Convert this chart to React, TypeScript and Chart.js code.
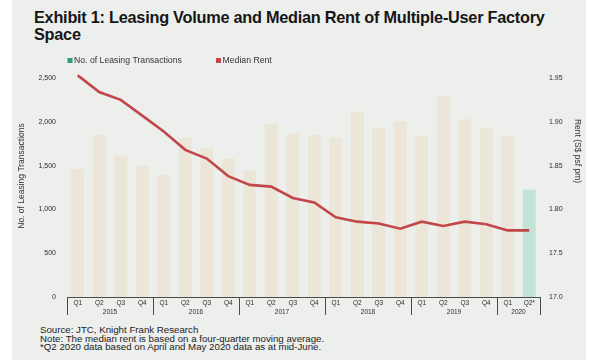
import React, { useEffect, useRef } from 'react';
import { Chart, registerables } from 'chart.js';

Chart.register(...registerables);

const QUARTER_LABELS = [
  'Q1', 'Q2', 'Q3', 'Q4',
  'Q1', 'Q2', 'Q3', 'Q4',
  'Q1', 'Q2', 'Q3', 'Q4',
  'Q1', 'Q2', 'Q3', 'Q4',
  'Q1', 'Q2', 'Q3', 'Q4',
  'Q1', 'Q2*',
];
const YEARS = ['2015', '2016', '2017', '2018', '2019', '2020'];
const YEAR_SPANS = [4, 4, 4, 4, 4, 2];

const TRANSACTIONS = [
  1460, 1850, 1615, 1495,
  1395, 1820, 1700, 1585,
  1445, 1975, 1860, 1850,
  1815, 2115, 1935, 2010,
  1840, 2295, 2030, 1935,
  1840, 1225,
];
const MEDIAN_RENT = [
  1.953, 1.934, 1.925, 1.907,
  1.889, 1.868, 1.858, 1.838,
  1.828, 1.826, 1.813, 1.808,
  1.791, 1.786, 1.784, 1.778,
  1.786, 1.781, 1.786, 1.783,
  1.776, 1.776,
];
const RENT_TICK_LABELS = ['17.0', '17.5', '1.80', '1.85', '1.90', '1.95'];

const TITLE_LINES = ['Exhibit 1: Leasing Volume and Median Rent of Multiple-User Factory', 'Space'];
const LEGEND_LABELS = ['No. of Leasing Transactions', 'Median Rent'];
const LEFT_AXIS_TITLE = 'No. of Leasing Transactions';
const RIGHT_AXIS_TITLE = 'Rent (S$ psf pm)';
const FOOTNOTES = [
  'Source: JTC, Knight Frank Research',
  'Note: The median rent is based on a four-quarter moving average.',
  '*Q2 2020 data based on April and May 2020 data as at mid-June.',
];

const FONT = '"Liberation Sans", Arial, Helvetica, sans-serif';
const BG = '#edefed';
const BAR_COLOR = '#ebe6d8';
const BAR_HIGHLIGHT = '#c4e3d7';
const LEGEND_GREEN = '#2c9c84';
const LINE_RED = '#c1474a';
const TEXT = '#2b2b2b';

export default function App() {
  const canvasRef = useRef<HTMLCanvasElement | null>(null);

  useEffect(() => {
    const canvas = canvasRef.current;
    if (!canvas) return;

    const barColors = TRANSACTIONS.map((_, i) => (i === TRANSACTIONS.length - 1 ? BAR_HIGHLIGHT : BAR_COLOR));
    const legendColors = [LEGEND_GREEN, LINE_RED];
    const legendX = [55.5, 204];

    const decorations = {
      id: 'decorations',
      afterDraw(chart: any) {
        const { ctx, chartArea, scales } = chart;
        const x = scales.x;
        const n = QUARTER_LABELS.length;
        const step = (chartArea.right - chartArea.left) / n;
        const axisY = chartArea.bottom;
        ctx.save();

        // legend
        ctx.font = `8.7px ${FONT}`;
        ctx.textAlign = 'left';
        ctx.textBaseline = 'middle';
        LEGEND_LABELS.forEach((label, i) => {
          ctx.fillStyle = legendColors[i];
          ctx.fillRect(legendX[i], 14, 5, 5);
          ctx.fillStyle = '#333';
          ctx.fillText(label, legendX[i] + 6.5, 16.5);
        });

        // year separators
        ctx.strokeStyle = '#4a4a4a';
        ctx.lineWidth = 1;
        let idx = 0;
        const boundaries: number[] = [0];
        YEAR_SPANS.forEach((s) => {
          idx += s;
          boundaries.push(idx);
        });
        boundaries.forEach((b) => {
          const px = Math.round(x.getPixelForValue(Math.min(b, n - 1)) + (b >= n ? step / 2 : -step / 2)) + 0.5;
          ctx.beginPath();
          ctx.moveTo(px, axisY);
          ctx.lineTo(px, axisY + 18);
          ctx.stroke();
        });
        // year labels
        ctx.fillStyle = TEXT;
        ctx.font = `6.5px ${FONT}`;
        ctx.textAlign = 'center';
        ctx.textBaseline = 'middle';
        let start = 0;
        YEARS.forEach((yr, i) => {
          const end = start + YEAR_SPANS[i] - 1;
          const cx = (x.getPixelForValue(start) + x.getPixelForValue(end)) / 2;
          ctx.fillText(yr, cx, axisY + 15);
          start += YEAR_SPANS[i];
        });
        // axis titles
        ctx.font = `8.5px ${FONT}`;
        ctx.fillStyle = '#333';
        ctx.save();
        ctx.translate(10, 132);
        ctx.rotate(-Math.PI / 2);
        ctx.fillText(LEFT_AXIS_TITLE, 0, 0);
        ctx.restore();
        ctx.save();
        ctx.translate(565, 107);
        ctx.rotate(Math.PI / 2);
        ctx.fillText(RIGHT_AXIS_TITLE, 0, 0);
        ctx.restore();
        ctx.restore();
      },
    };

    const chart = new Chart(canvas, {
      type: 'bar',
      data: {
        labels: QUARTER_LABELS,
        datasets: [
          {
            type: 'bar',
            label: LEGEND_LABELS[0],
            data: TRANSACTIONS,
            backgroundColor: barColors,
            borderWidth: 0,
            barPercentage: 0.6,
            categoryPercentage: 1.0,
            yAxisID: 'y',
            order: 1,
          } as any,
          {
            type: 'line',
            label: LEGEND_LABELS[1],
            data: MEDIAN_RENT,
            borderColor: LINE_RED,
            backgroundColor: LINE_RED,
            borderWidth: 2.6,
            pointRadius: 0,
            tension: 0,
            clip: false,
            yAxisID: 'y1',
            order: -1,
          } as any,
        ],
      },
      options: {
        animation: false,
        responsive: false,
        maintainAspectRatio: false,
        layout: { padding: { top: 34, left: 0, right: 0, bottom: 0 } },
        plugins: {
          tooltip: { enabled: false },
          title: { display: false },
          legend: { display: false },
        },
        scales: {
          x: {
            type: 'category',
            offset: true,
            grid: { display: false, drawTicks: false },
            border: { display: true, color: '#4a4a4a', width: 1 },
            ticks: {
              autoSkip: false,
              maxRotation: 0,
              minRotation: 0,
              padding: 2.5,
              color: TEXT,
              font: { family: FONT, size: 6.5 },
            },
            afterFit: (s: any) => {
              s.height = 23;
            },
          },
          y: {
            type: 'linear',
            position: 'left',
            min: 0,
            max: 2500,
            grid: { display: false, drawTicks: false },
            border: { display: false },
            ticks: {
              stepSize: 500,
              padding: 11,
              color: TEXT,
              font: { family: FONT, size: 7 },
            },
            afterFit: (s: any) => {
              s.width = 55;
            },
          },
          y1: {
            type: 'linear',
            position: 'right',
            min: 1.7,
            max: 1.95,
            grid: { display: false, drawTicks: false },
            border: { display: false },
            ticks: {
              stepSize: 0.05,
              padding: 9,
              color: TEXT,
              font: { family: FONT, size: 7 },
              callback: (_v: any, i: number) => RENT_TICK_LABELS[i] ?? '',
            },
            afterFit: (s: any) => {
              s.width = 46;
            },
          },
        },
      },
      plugins: [decorations],
    });

    return () => chart.destroy();
  }, []);

  return (
    <div style={{ position: 'fixed', left: 0, top: 0, width: 600, height: 360, background: '#ffffff', overflow: 'hidden' }}>
      <div style={{ position: 'absolute', left: 12, top: 0, width: 574, height: 360, background: BG }} />
      <div
        style={{
          position: 'absolute',
          left: 34,
          top: 9,
          fontFamily: FONT,
          fontWeight: 700,
          fontSize: 16.3,
          lineHeight: '17px',
          color: '#161616',
          whiteSpace: 'nowrap',
          letterSpacing: '-0.25px',
        }}
      >
        {TITLE_LINES[0]}
        <br />
        {TITLE_LINES[1]}
      </div>
      <canvas
        ref={canvasRef}
        width={574}
        height={276}
        style={{ position: 'absolute', left: 12, top: 44, width: 574, height: 276 }}
      />
      <div
        style={{
          position: 'absolute',
          left: 40,
          top: 326,
          fontFamily: FONT,
          fontSize: 9.7,
          lineHeight: '8.5px',
          color: '#222',
          whiteSpace: 'nowrap',
        }}
      >
        {FOOTNOTES.map((t, i) => (
          <div key={i}>{t}</div>
        ))}
      </div>
    </div>
  );
}
